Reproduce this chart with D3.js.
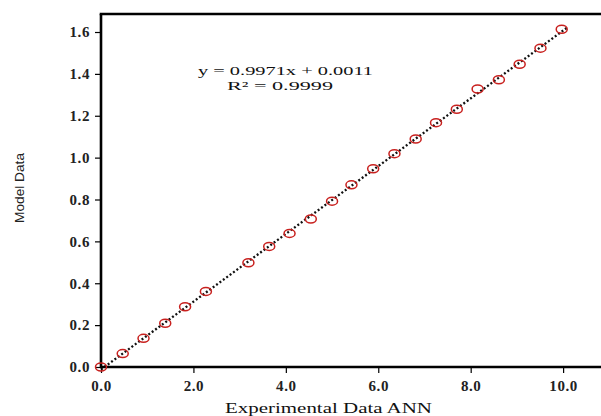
<!DOCTYPE html>
<html>
<head>
<meta charset="utf-8">
<script src="https://cdn.jsdelivr.net/npm/d3@7"></script>
<style>
  html, body { margin: 0; padding: 0; background: #fff; }
  svg { display: block; }
</style>
</head>
<body>
<svg id="chart" width="601" height="416"></svg>
<script>
// Experimental (ANN) values and the corresponding model values
const experimental = [0.00, 0.47, 0.92, 1.39, 1.82, 2.27, 3.19, 3.64, 4.08, 4.54, 5.00,
                      5.42, 5.89, 6.35, 6.81, 7.25, 7.70, 8.15, 8.61, 9.06, 9.51, 9.97];
const model = [0.000, 0.064, 0.137, 0.209, 0.288, 0.361, 0.498, 0.576, 0.638, 0.707, 0.792,
               0.870, 0.947, 1.019, 1.089, 1.167, 1.231, 1.328, 1.372, 1.446, 1.523, 1.613];
const xTicks = [0, 2, 4, 6, 8, 10];
const yTicks = [0, 0.2, 0.4, 0.6, 0.8, 1.0, 1.2, 1.4, 1.6];
const equationLines = ["y = 0.9971x + 0.0011", "R\u00B2 = 0.9999"];
const xTitle = "Experimental  Data ANN";
const yTitle = "Model Data";

const svg = d3.select("#chart");
const W = 601, H = 416;
const m = { left: 101, right: 0, top: 14, bottom: 49 };

const x = d3.scaleLinear().domain([0, 10.82]).range([m.left, W - m.right]);
const y = d3.scaleLinear().domain([0, 1.686]).range([H - m.bottom, m.top]);

const serif = "'Liberation Serif', 'Times New Roman', serif";

// Least-squares fit through the points for the dotted trend line
const n = experimental.length;
const mx = d3.mean(experimental), my = d3.mean(model);
let sxy = 0, sxx = 0;
for (let i = 0; i < n; i++) {
  sxy += (experimental[i] - mx) * (model[i] - my);
  sxx += (experimental[i] - mx) ** 2;
}
const slope = sxy / sxx, intercept = my - slope * mx;
const x0 = d3.min(experimental), x1 = d3.max(experimental) * 1.012;

svg.append("line")
  .attr("x1", x(x0)).attr("y1", y(slope * x0 + intercept))
  .attr("x2", x(x1)).attr("y2", y(slope * x1 + intercept))
  .attr("stroke", "#111").attr("stroke-width", 2.3)
  .attr("stroke-dasharray", "2,2.2");

// Axes
const xAxis = svg.append("g")
  .attr("transform", `translate(0,${y(0)})`)
  .call(d3.axisBottom(x).tickValues(xTicks).tickFormat(d3.format(".1f")).tickSize(6).tickPadding(5));
const yAxis = svg.append("g")
  .attr("transform", `translate(${x(0)},0)`)
  .call(d3.axisLeft(y).tickValues(yTicks).tickFormat(d3.format(".1f")).tickSize(6).tickPadding(5));

[xAxis, yAxis].forEach(g => {
  g.attr("font-family", serif);
  g.select(".domain").attr("stroke", "#000").attr("stroke-width", 2.6);
  g.selectAll(".tick line").attr("stroke", "#000").attr("stroke-width", 1.2);
  g.selectAll(".tick text")
    .attr("font-family", serif).attr("font-size", 15).attr("font-weight", "bold")
    .attr("letter-spacing", 0.6)
    .attr("fill", "#222");
});
xAxis.select(".domain").attr("d", `M${x(0)},0H${W}`);
yAxis.select(".domain").attr("d", `M0,${y(0)}V${m.top}`);
xAxis.selectAll(".tick text").attr("dy", "0.85em");

// Top frame line
svg.append("line")
  .attr("x1", x(0) - 1.3).attr("x2", W)
  .attr("y1", m.top).attr("y2", m.top)
  .attr("stroke", "#000").attr("stroke-width", 2.6);

// Data markers
svg.append("g").selectAll("ellipse")
  .data(experimental)
  .join("ellipse")
  .attr("cx", (d) => x(d))
  .attr("cy", (d, i) => y(model[i]))
  .attr("rx", 5.5).attr("ry", 4)
  .attr("fill", "none")
  .attr("stroke", "#c8201e").attr("stroke-width", 1.5);

// Regression equation
svg.append("text")
  .attr("x", 198).attr("y", 75)
  .attr("font-family", serif).attr("font-size", 13)
  .attr("textLength", 175).attr("lengthAdjust", "spacingAndGlyphs")
  .attr("fill", "#111")
  .text(equationLines[0]);
svg.append("text")
  .attr("x", 227).attr("y", 90)
  .attr("font-family", serif).attr("font-size", 13)
  .attr("textLength", 106).attr("lengthAdjust", "spacingAndGlyphs")
  .attr("fill", "#111")
  .text(equationLines[1]);

// Axis titles
svg.append("text")
  .attr("x", 225).attr("y", 413)
  .attr("font-family", serif).attr("font-size", 15)
  .attr("textLength", 207).attr("lengthAdjust", "spacingAndGlyphs")
  .attr("fill", "#111")
  .text(xTitle);
svg.append("text")
  .attr("transform", "translate(24,223) rotate(-90)")
  .attr("font-family", "'Liberation Sans Narrow', 'Liberation Sans', Arial, sans-serif")
  .attr("font-size", 13)
  .attr("textLength", 70).attr("lengthAdjust", "spacingAndGlyphs")
  .attr("fill", "#222")
  .text(yTitle);
</script>
</body>
</html>
